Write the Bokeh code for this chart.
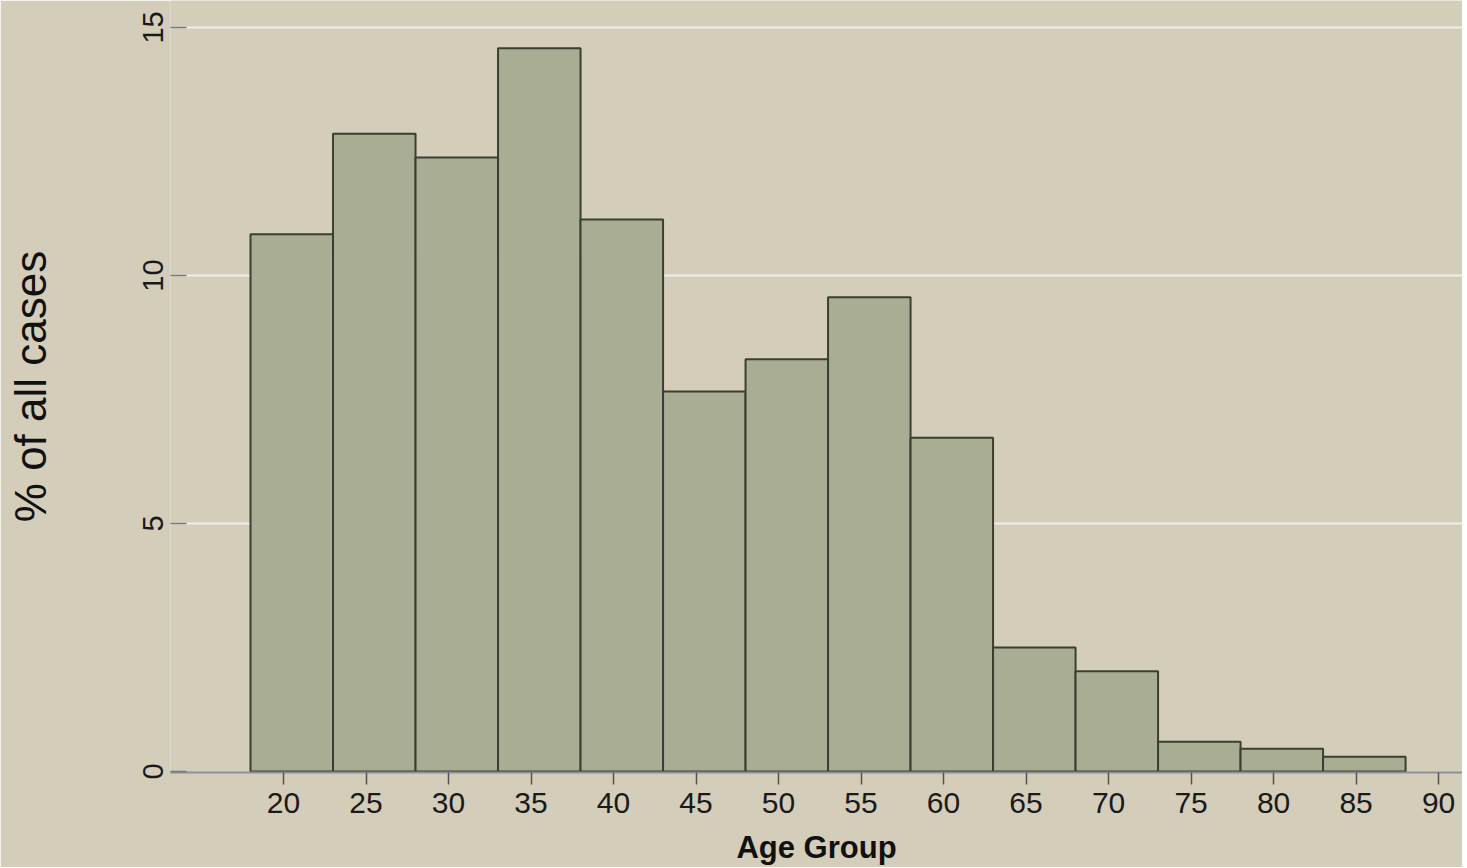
from bokeh.plotting import figure
from bokeh.models import FixedTicker, Range1d
from bokeh.embed import file_html
from bokeh.resources import INLINE

# Data (bins of 5 years, left edges)
bin_left = [18, 23, 28, 33, 38, 43, 48, 53, 58, 63, 68, 73, 78, 83]
bin_width = 5
pct_cases = [10.83, 12.86, 12.38, 14.58, 11.13, 7.66, 8.31, 9.56, 6.73, 2.50, 2.02, 0.60, 0.46, 0.30]
x_ticks = [20, 25, 30, 35, 40, 45, 50, 55, 60, 65, 70, 75, 80, 85, 90]
y_ticks = [0, 5, 10, 15]

bin_right = [b + bin_width for b in bin_left]
bottoms = [0] * len(bin_left)

BG = "#D3CDBA"
FONT = "Liberation Sans"

p = figure(
    frame_width=1292, frame_height=772,
    min_border_left=170, min_border_right=0, min_border_top=0, min_border_bottom=0,
    x_range=Range1d(13.15, 91.45), y_range=Range1d(-0.02, 15.544),
    output_backend="svg", toolbar_location=None,
    background_fill_color=BG, border_fill_color=BG,
)
p.outline_line_color = None

p.quad(left=bin_left, right=bin_right, bottom=bottoms, top=pct_cases,
       fill_color="#A8AD94", line_color="#3B3F30", line_width=2)

# Grid
p.xgrid.grid_line_color = None
p.ygrid.grid_line_color = "#EDEDED"
p.ygrid.grid_line_width = 2
p.ygrid.ticker = FixedTicker(ticks=[t for t in y_ticks if t > 0])

# X axis
xa = p.xaxis[0]
xa.ticker = FixedTicker(ticks=x_ticks)
xa.minor_tick_line_color = None
xa.axis_line_color = "#8C909A"
xa.axis_line_width = 2
xa.major_tick_line_color = "#555555"
xa.major_tick_line_width = 1.5
xa.major_tick_out = 12
xa.major_tick_in = 0
xa.major_label_standoff = 8
xa.major_label_text_font = FONT
xa.major_label_text_font_size = "30px"
xa.major_label_text_color = "#1A1A1A"
xa.axis_label = "Age Group"
xa.axis_label_text_font = FONT
xa.axis_label_text_font_style = "bold"
xa.axis_label_text_font_size = "31px"
xa.axis_label_text_color = "#111111"
xa.axis_label_standoff = 14

# Y axis
ya = p.yaxis[0]
ya.ticker = FixedTicker(ticks=y_ticks)
ya.minor_tick_line_color = None
ya.axis_line_color = None
ya.major_tick_line_color = "#777777"
ya.major_tick_line_width = 1.5
ya.major_tick_in = 16
ya.major_tick_out = 0
ya.major_label_orientation = "vertical"
ya.major_label_standoff = 7
ya.major_label_text_font = FONT
ya.major_label_text_font_size = "29px"
ya.major_label_text_color = "#1A1A1A"
ya.axis_label = "% of all cases"
ya.axis_label_text_font = FONT
ya.axis_label_text_font_style = "normal"
ya.axis_label_text_font_size = "44px"
ya.axis_label_text_color = "#111111"
ya.axis_label_standoff = 86

open("out.html", "w").write(file_html(p, INLINE))
